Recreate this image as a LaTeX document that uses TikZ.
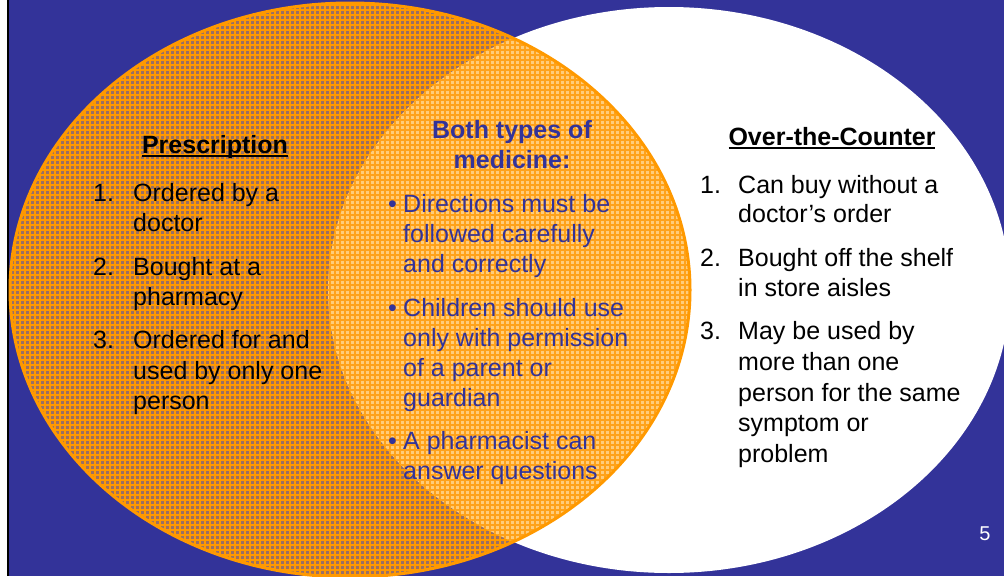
\documentclass[tikz,border=0pt]{standalone}
\usepackage{fontspec}
\setmainfont{Liberation Sans}
\definecolor{bg}{HTML}{333399}
\definecolor{org}{HTML}{FF9900}
\definecolor{darkbase}{HTML}{9A7064}
\definecolor{lightbase}{HTML}{FFCC7A}
\definecolor{ltline}{HTML}{FFA21A}
\definecolor{txtblue}{HTML}{333399}
\newcommand{\ulx}[1]{\setbox0\hbox{#1}\rlap{\rule[-4pt]{\wd0}{2pt}}\box0}
\begin{document}
\begin{tikzpicture}[x=1pt,y=-1pt,
  txt/.style={anchor=base west,inner sep=0pt,font=\fontsize{25}{30}\selectfont},
  btxt/.style={txt,text=txtblue},
  head/.style={anchor=base,inner sep=0pt,font=\fontsize{25}{30}\selectfont\bfseries},
  bul/.style={anchor=base west,inner sep=0pt,text=txtblue,font=\fontsize{25}{30}\selectfont}]
\useasboundingbox (0,0) rectangle (1004,576);
\fill[white] (0,0) rectangle (8,576);
\fill[bg] (8,0) rectangle (1004,576);
\draw[black,line width=1.2pt] (8,0) -- (8,576);
% right ellipse
\fill[white] (669,290) ellipse [x radius=341, y radius=283];
% left ellipse with grid
\begin{scope}
  \clip (350,290) ellipse [x radius=340, y radius=287];
  \fill[darkbase] (0,0) rectangle (1004,576);
  \draw[org,line width=1.8pt] (0,576) grid[step=5pt] (1004,0);
  \clip (669,290) ellipse [x radius=341, y radius=283];
  \fill[lightbase] (0,0) rectangle (1004,576);
  \draw[ltline,line width=1.6pt] (0,576) grid[step=5pt] (1004,0);
\end{scope}
\draw[org,line width=3pt] (350,290) ellipse [x radius=340, y radius=287];
% left text
\node[head] (Lh) at (215,153) {\ulx{Prescription}};
\foreach \y/\n [count=\i] in {201/1., 275/2., 348/3.}
  \node[txt] (Ln\i) at (93,\y) {\n};
\foreach \y/\t [count=\i] in {201/Ordered by a, 231/doctor, 275/Bought at a, 305/pharmacy,
  348/Ordered for and, 379/used by only one, 409/person}
  \node[txt] (Lt\i) at (133,\y) {\t};
% middle text
\node[head,text=txtblue] (Mh1) at (512,138) {Both types of};
\node[head,text=txtblue] (Mh2) at (512,168) {medicine:};
\foreach \y [count=\i] in {212, 316, 449}
  \node[bul] (Mb\i) at (388,\y) {•};
\foreach \y/\t [count=\i] in {212/Directions must be, 242/followed carefully, 272/and correctly,
  316/Children should use, 346/only with permission, 376/of a parent or, 406/guardian,
  449/A pharmacist can, 479/answer questions}
  \node[btxt] (Mt\i) at (403,\y) {\t};
% right text
\node[head] (Rh) at (832,145) {\ulx{Over-the-Counter}};
\foreach \y/\n [count=\i] in {193/1., 266/2., 339/3.}
  \node[txt] (Rn\i) at (700,\y) {\n};
\foreach \y/\t [count=\i] in {193/Can buy without a, 222/doctor’s order, 266/Bought off the shelf,
  296/in store aisles, 339/May be used by, 370/more than one, 401/person for the same,
  431/symptom or, 462/problem}
  \node[txt] (Rt\i) at (738,\y) {\t};
% page number
\node[anchor=base,inner sep=0pt,text=white,font=\fontsize{20}{24}\selectfont] (pg) at (985,540) {5};
\end{tikzpicture}
\end{document}
